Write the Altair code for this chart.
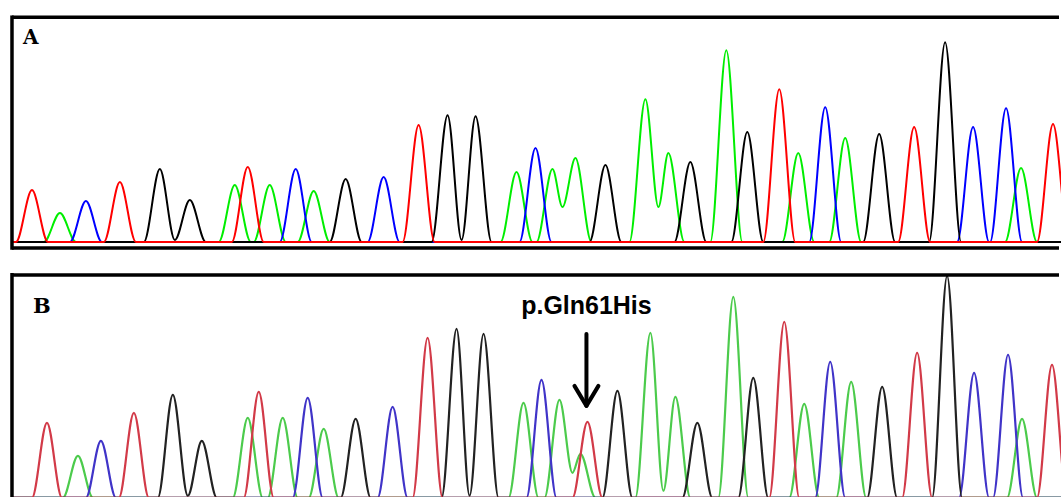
import altair as alt
import pandas as pd

BASES = ["A", "C", "G", "T"]  # green, blue, black, red

# ---- Panel A (reference trace) : peak position, peak height, base call ----
a_pos = [31, 59, 85, 119, 159, 189, 234, 247, 269, 295, 313, 345, 383, 418, 447, 475,
         516, 535, 552, 575, 605, 645, 668, 690, 726, 747, 779, 798, 825, 845, 879, 914,
         945, 973, 1006, 1021, 1053]
a_height = [52, 29, 41, 60, 73, 42, 57, 75, 57, 73, 51, 63, 65, 117, 127, 126,
            70, 94, 73, 84, 77, 143, 89, 80, 192, 110, 153, 89, 135, 104, 108, 115,
            200, 115, 134, 74, 118]
a_base = ["T", "A", "C", "T", "G", "G", "A", "T", "A", "C", "A", "G", "C", "T", "G", "G",
          "A", "C", "A", "A", "G", "A", "A", "G", "A", "G", "T", "A", "C", "A", "G", "T",
          "G", "C", "C", "A", "T"]
a_valley_pos = [174, 461, 562, 658]
a_valley_height = [2, 2, 35, 35]
a_valley_base = ["G", "G", "A", "A"]

# ---- Panel B (patient trace) ----
b_pos = [46, 77, 100, 133, 172, 201, 247, 258, 282, 307, 323, 355, 392, 427, 456, 483,
         523, 541, 559, 580, 587, 617, 650, 675, 697, 733, 753, 784, 804, 830, 851, 882,
         917, 947, 974, 1008, 1022, 1052]
b_height = [75, 42, 57, 85, 103, 57, 80, 106, 80, 100, 69, 79, 91, 160, 169, 164,
            95, 118, 98, 44, 76, 107, 165, 101, 75, 201, 120, 176, 94, 136, 116, 111,
            145, 222, 125, 143, 79, 133]
b_base = ["T", "A", "C", "T", "G", "G", "A", "T", "A", "C", "A", "G", "C", "T", "G", "G",
          "A", "C", "A", "A", "T", "G", "A", "A", "G", "A", "G", "T", "A", "C", "A", "G",
          "T", "G", "C", "C", "A", "T"]
b_valley_pos = [187, 469, 572, 663]
b_valley_height = [2, 2, 25, 7]
b_valley_base = ["G", "G", "A", "A"]

# annotation
ann_label = ["p.Gln61His"]
ann_x = [586]
ann_label_y = [184]
arrow_top = [164]
arrow_tip = [92]

a_colors = ["#00EE00", "#0000FF", "#000000", "#FF0000"]
b_colors = ["#4CCB4C", "#4034C8", "#222222", "#D23A48"]


def build_trace(pos, hgt, base, vpos, vh, vb, w):
    rows = []
    for b in BASES:
        pk = sorted((p, h) for p, h, bb in zip(pos, hgt, base) if bb == b)
        vs = [(x, h) for x, h, bb in zip(vpos, vh, vb) if bb == b]
        pts = [(0, 0)]
        for i, (p, h) in enumerate(pk):
            if i == 0:
                pts.append((p - w, 0))
            pts.append((p, h))
            if i + 1 < len(pk):
                q = pk[i + 1][0]
                v = [vv for vv in vs if p < vv[0] < q]
                if v:
                    pts.append(v[0])
                elif q - p >= 2 * w:
                    pts += [(p + w, 0), (q - w, 0)]
                else:
                    pts.append(((p + q) / 2, 0))
            else:
                pts.append((p + w, 0))
        pts.append((1100, 0))
        for i, (x, y) in enumerate(pts):
            rows.append({"base": b, "i": i, "x": x, "y": y})
    return pd.DataFrame(rows)


W = 1050
HA = 231
HB = 223
XDOM = [11, 1061]
one = pd.DataFrame({"k": [0]})


def traces(df, colors, ydom, sw):
    x = alt.X("x:Q", scale=alt.Scale(domain=XDOM, nice=False, zero=False), axis=None)
    y = alt.Y("y:Q", scale=alt.Scale(domain=ydom, nice=False, zero=False), axis=None)
    layers = []
    for b, c in zip(BASES, colors):
        layers.append(
            alt.Chart(df[df["base"] == b]).mark_line(
                color=c, strokeWidth=sw, interpolate="monotone", clip=True
            ).encode(x=x, y=y, order="i:Q")
        )
    return layers


def rule(x, x2, y, y2, cap="square"):
    return alt.Chart(one).mark_rule(color="black", strokeWidth=3.5, strokeCap=cap).encode(
        x=alt.value(x), x2=alt.value(x2), y=alt.value(y), y2=alt.value(y2)
    )


def letter(t, size, xpx, ypx):
    return alt.Chart(pd.DataFrame({"t": [t]})).mark_text(
        font="DejaVu Serif", fontWeight="bold", fontSize=size, align="left",
        baseline="alphabetic", color="black"
    ).encode(text="t:N", x=alt.value(xpx), y=alt.value(ypx))


dfA = build_trace(a_pos, a_height, a_base, a_valley_pos, a_valley_height, a_valley_base, 16)
dfB = build_trace(b_pos, b_height, b_base, b_valley_pos, b_valley_height, b_valley_base, 15)

ydomA = [-6, 225]
ydomB = [0, 223]

panelA = alt.layer(
    *traces(dfA, a_colors, ydomA, 2),
    rule(0, 0, 0, HA),
    rule(0, W - 2, 0, 0, "butt"),
    rule(0, W - 2, HA, HA, "butt"),
    letter("A", 20, 11, 27),
).properties(width=W, height=HA)

xs = alt.Scale(domain=XDOM, nice=False, zero=False)
ys = alt.Scale(domain=ydomB, nice=False, zero=False)

ann_df = pd.DataFrame({"label": ann_label, "x": ann_x, "ly": ann_label_y,
                       "top": arrow_top, "tip": arrow_tip})
ann_df["hl"] = ann_df["x"] - 12
ann_df["hr"] = ann_df["x"] + 12
ann_df["hy"] = ann_df["tip"] + 20
ann_df["st"] = ann_df["tip"] + 2

label = alt.Chart(ann_df).mark_text(
    font="Liberation Sans", fontWeight="bold", fontSize=25, align="center",
    baseline="alphabetic", color="black"
).encode(text="label:N", x=alt.X("x:Q", scale=xs, axis=None),
         y=alt.Y("ly:Q", scale=ys, axis=None))

shaft = alt.Chart(ann_df).mark_rule(color="black", strokeWidth=4, strokeCap="round").encode(
    x=alt.X("x:Q", scale=xs, axis=None), y=alt.Y("top:Q", scale=ys, axis=None), y2="st:Q")
headL = alt.Chart(ann_df).mark_rule(color="black", strokeWidth=4, strokeCap="round").encode(
    x=alt.X("hl:Q", scale=xs, axis=None), x2="x:Q",
    y=alt.Y("hy:Q", scale=ys, axis=None), y2="tip:Q")
headR = alt.Chart(ann_df).mark_rule(color="black", strokeWidth=4, strokeCap="round").encode(
    x=alt.X("hr:Q", scale=xs, axis=None), x2="x:Q",
    y=alt.Y("hy:Q", scale=ys, axis=None), y2="tip:Q")

panelB = alt.layer(
    *traces(dfB, b_colors, ydomB, 2.2),
    rule(0, 0, -2, HB, "butt"),
    rule(0, W - 2, 0, 0, "butt"),
    letter("B", 21, 21, 38),
    label, shaft, headL, headR,
).properties(width=W, height=HB)

chart = alt.vconcat(panelA, panelB, spacing=27, bounds="flush").properties(
    padding={"left": 9, "top": 14, "right": 0, "bottom": 0}
).configure_view(stroke=None)

chart.save("out.html", embed_options={"renderer": "svg", "actions": False})
